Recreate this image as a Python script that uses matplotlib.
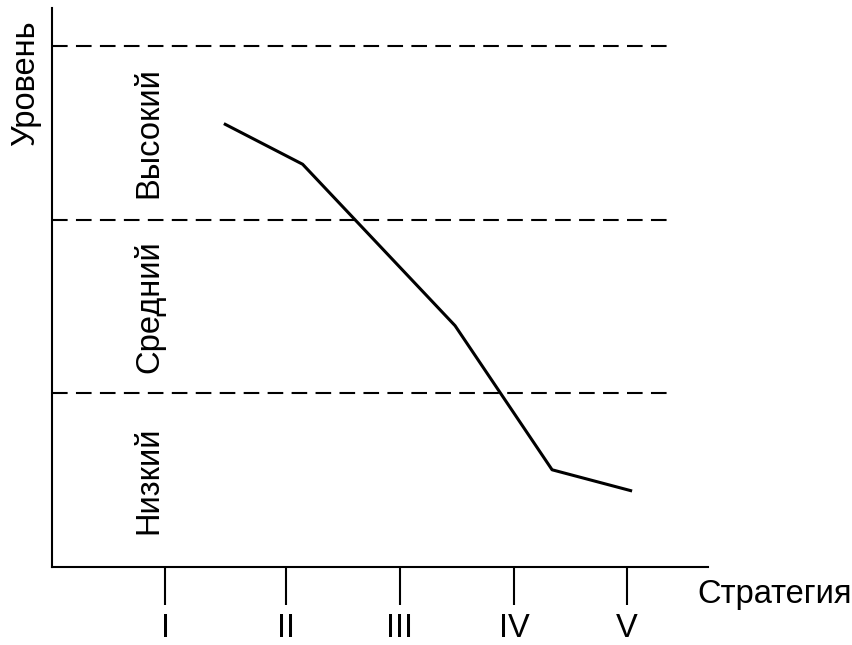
import matplotlib
matplotlib.use("Agg")
import matplotlib.pyplot as plt

plt.rcParams['font.family'] = ['Liberation Sans', 'DejaVu Sans']

# strategy positions and labels
strategies = [1, 2.05, 3.03, 4.02, 5]
strategy_labels = ["I", "II", "III", "IV", "V"]

# level curve
curve_x = [1.52, 2.19, 3.51, 4.35, 5.03]
curve_y = [2.55, 2.32, 1.39, 0.56, 0.44]

# level boundaries and zone names
bounds = [1, 2, 3]
zone_y = [0.5, 1.5, 2.5]
zone_names = ["Низкий", "Средний", "Высокий"]

fs = 23.5

fig = plt.figure(figsize=(8.53, 6.45), dpi=100)
ax = fig.add_axes([52/853, 78/645, (708-52)/853, (567-8)/645])

ax.set_xlim(0.02, 5.70)
ax.set_ylim(0, 3.22)

for b in bounds:
    ax.plot([0.02, 5.37], [b, b], color='black', lw=1.5, dashes=(7.5, 4))

ax.plot(curve_x, curve_y, color='black', lw=2.2)

for y, name in zip(zone_y, zone_names):
    ax.text(0.86, y, name, rotation=90, ha='center', va='center', fontsize=fs)

for s in ['top', 'right']:
    ax.spines[s].set_visible(False)
for s in ['left', 'bottom']:
    ax.spines[s].set_linewidth(1.5)

ax.set_yticks([])
ax.set_xticks(strategies)
ax.set_xticklabels(strategy_labels, fontsize=fs)
ax.tick_params(axis='x', direction='out', length=27, width=1.5, pad=6)

ax.text(5.61, -0.207, "Стратегия", ha='left', va='baseline', fontsize=fs, clip_on=False)
fig.text(26/853, 1 - 20/645, "Уровень", rotation=90, ha='center', va='top', fontsize=fs)

fig.savefig("out.png", dpi=100)
